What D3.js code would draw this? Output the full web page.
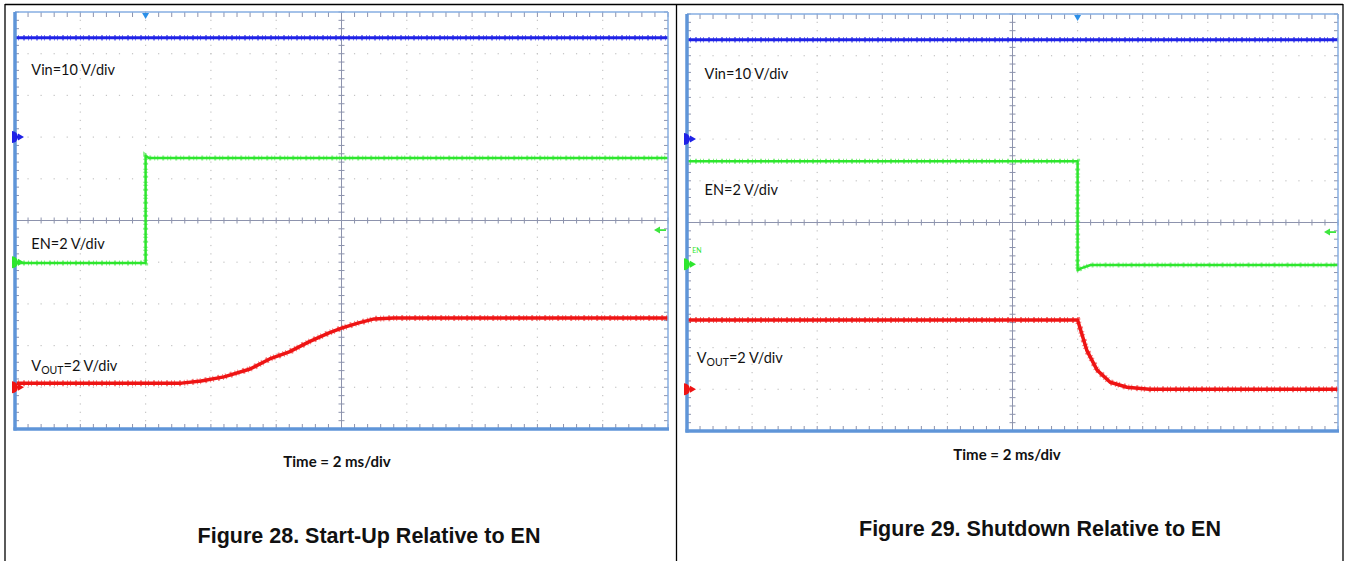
<!DOCTYPE html>
<html>
<head>
<meta charset="utf-8">
<script src="https://cdn.jsdelivr.net/npm/d3@7"></script>
<style>
  body { margin:0; background:#fff; }
  svg { display:block; }
  .lbl { font-family: Lato, "Open Sans", sans-serif; font-size:14.5px; fill:#111; }
  .time { font-family: Lato, "Open Sans", sans-serif; font-size:15px; font-weight:bold; fill:#111; }
  .cap { font-family: "Liberation Sans", Arial, sans-serif; font-size:21.5px; font-weight:bold; fill:#111; }
</style>
</head>
<body>
<div id="root"></div>
<script>
// ——— données (temps en divisions, tension en divisions depuis le bas)
// Figure 28 : démarrage
const upVinT = [0, 10];
const upVinV = [9.38, 9.38];
const upEnT  = [0, 2.0, 2.0, 2.05, 10];
const upEnV  = [3.98, 3.98, 6.55, 6.5, 6.5];
const upOutT = [0, 2.55, 2.85, 3.2, 3.6, 3.9, 4.2, 4.5, 4.8, 5.0, 5.25, 5.5, 5.8, 10];
const upOutV = [1.1, 1.1, 1.15, 1.25, 1.44, 1.68, 1.85, 2.09, 2.3, 2.42, 2.54, 2.64, 2.66, 2.66];

// Figure 29 : arrêt
const dnVinT = [0, 10];
const dnVinV = [9.38, 9.38];
const dnEnT  = [0, 6.0, 6.0, 6.05, 6.2, 10];
const dnEnV  = [6.47, 6.47, 3.85, 3.9, 3.98, 3.98];
const dnOutT = [0, 6.0, 6.14, 6.3, 6.5, 6.76, 7.1, 10];
const dnOutV = [2.66, 2.66, 1.94, 1.46, 1.17, 1.05, 1.0, 1.0];

// repères de voie (niveau de masse), déclenchement
const chLevels = [7, 4, 1];
const chColors = ["#1f22e6", "#2ee62e", "#ee1414"];
const trigLevel = 4.77;
const upTrigT = 2.0;
const dnTrigT = 6.0;

const W = 1346, H = 561;
const svg = d3.select("#root").append("svg").attr("width", W).attr("height", H);

// ——— cadre du document
const frame = svg.append("g").attr("stroke", "#000").attr("stroke-width", 1.3);
frame.append("line").attr("x1", 5).attr("x2", 1343).attr("y1", 4.5).attr("y2", 4.5);
[5, 676.5, 1343].forEach(x => frame.append("line").attr("x1", x).attr("x2", x).attr("y1", 4).attr("y2", H));

// ——— un oscillogramme
function scope(box, traces, trigT, labels) {
  const x = d3.scaleLinear().domain([0, 10]).range([box.x0, box.x1]);
  const y = d3.scaleLinear().domain([0, 10]).range([box.y1, box.y0]);
  const g = svg.append("g");
  const div = d3.range(0, 10.001, 0.2);

  // grille pointillée
  const maj = d3.range(1, 10);
  maj.filter(k => k !== 5).forEach(k => {
    div.forEach(s => {
      g.append("rect").attr("x", x(k) - 0.6).attr("y", y(s) - 0.6).attr("width", 1.2).attr("height", 1.2).attr("fill", "#c4c4c4");
      g.append("rect").attr("x", x(s) - 0.6).attr("y", y(k) - 0.6).attr("width", 1.2).attr("height", 1.2).attr("fill", "#c4c4c4");
    });
  });

  // axes centraux avec graduations
  const ax = g.append("g").attr("stroke", "#8d93ad").attr("stroke-width", 1);
  ax.append("line").attr("x1", x(0)).attr("x2", x(10)).attr("y1", y(5)).attr("y2", y(5));
  ax.append("line").attr("x1", x(5)).attr("x2", x(5)).attr("y1", y(0)).attr("y2", y(10));
  div.forEach(s => {
    ax.append("line").attr("x1", x(s)).attr("x2", x(s)).attr("y1", y(5) - 3).attr("y2", y(5) + 3);
    ax.append("line").attr("y1", y(s)).attr("y2", y(s)).attr("x1", x(5) - 3).attr("x2", x(5) + 3);
    // graduations du bord
    ax.append("line").attr("x1", x(s)).attr("x2", x(s)).attr("y1", y(10)).attr("y2", y(10) + 5);
    ax.append("line").attr("x1", x(s)).attr("x2", x(s)).attr("y1", y(0)).attr("y2", y(0) - 5);
    ax.append("line").attr("y1", y(s)).attr("y2", y(s)).attr("x1", x(0)).attr("x2", x(0) + 4);
    ax.append("line").attr("y1", y(s)).attr("y2", y(s)).attr("x1", x(10)).attr("x2", x(10) - 4);
  });

  // traces (trait plein + texture de bruit en pointillés)
  const line = d3.line().x(d => x(d[0])).y(d => y(d[1]));
  traces.forEach(tr => {
    const pts = d3.zip(tr.t, tr.v);
    g.append("path")
      .datum(pts)
      .attr("fill", "none")
      .attr("stroke", tr.color)
      .attr("stroke-width", tr.w)
      .attr("stroke-linejoin", "round")
      .attr("d", line);
    g.append("path")
      .datum(pts)
      .attr("fill", "none")
      .attr("stroke", tr.color)
      .attr("stroke-width", tr.w + 2.5)
      .attr("stroke-dasharray", "1 2 1 4 2 3")
      .attr("opacity", 0.55)
      .attr("d", line);
  });

  // bord du cadre
  g.append("line").attr("x1", x(0)).attr("x2", x(10)).attr("y1", y(10)).attr("y2", y(10)).attr("stroke", "#86aee2").attr("stroke-width", 1.5);
  g.append("line").attr("x1", x(10)).attr("x2", x(10)).attr("y1", y(10)).attr("y2", y(0)).attr("stroke", "#86aee2").attr("stroke-width", 1.5);
  g.append("line").attr("x1", x(0)).attr("x2", x(0)).attr("y1", y(10)).attr("y2", y(0) + 1.5).attr("stroke", "#5f95d8").attr("stroke-width", 3.5);
  g.append("line").attr("x1", x(0) - 1.5).attr("x2", x(10) + 1).attr("y1", y(0)).attr("y2", y(0)).attr("stroke", "#5f95d8").attr("stroke-width", 3.5);

  // repères de voie (par-dessus le cadre)
  chLevels.forEach((lv, i) => {
    const cy = y(lv), cx = x(0) - 3;
    g.append("path")
      .attr("d", `M${cx},${cy - 6} A6,6 0 0 1 ${cx},${cy + 6} Z`)
      .attr("fill", chColors[i]);
    g.append("path")
      .attr("d", `M${cx + 6},${cy - 3.5} L${cx + 12},${cy} L${cx + 6},${cy + 3.5} Z`)
      .attr("fill", chColors[i]);
    g.append("line").attr("x1", cx).attr("x2", cx + 8).attr("y1", cy).attr("y2", cy).attr("stroke", chColors[i]).attr("stroke-width", 2);
  });

  // déclenchement
  g.append("path")
    .attr("d", `M${x(trigT) - 3.5},${y(10) + 1} L${x(trigT) + 3.5},${y(10) + 1} L${x(trigT)},${y(10) + 7} Z`)
    .attr("fill", "#2a8fe8");
  const ty = y(trigLevel), tx = x(10) - 4;
  g.append("path").attr("d", `M${tx - 10},${ty} L${tx - 4},${ty - 3.5} L${tx - 4},${ty + 3.5} Z`).attr("fill", "#3ee63e");
  g.append("line").attr("x1", tx - 5).attr("x2", tx + 2).attr("y1", ty).attr("y2", ty).attr("stroke", "#3ee63e").attr("stroke-width", 1.8);

  // étiquettes
  labels.forEach(l => {
    const t = g.append("text").attr("class", "lbl").attr("x", x(l.t)).attr("y", y(l.v));
    if (l.sub) {
      t.append("tspan").text("V");
      t.append("tspan").attr("font-size", "10.5px").attr("dy", 3).text("OUT");
      t.append("tspan").attr("dy", -3).text(l.text);
    } else t.text(l.text);
  });
  return { x, y };
}

const up = scope({ x0: 15, x1: 668, y0: 12, y1: 429 }, [
  { t: upVinT, v: upVinV, color: chColors[0], w: 3 },
  { t: upEnT,  v: upEnV,  color: chColors[1], w: 2.5 },
  { t: upOutT, v: upOutV, color: chColors[2], w: 3.5 }
], upTrigT, [
  { t: 0.25, v: 8.5, text: "Vin=10 V/div" },
  { t: 0.25, v: 4.32, text: "EN=2 V/div" },
  { t: 0.25, v: 1.4, text: "=2 V/div", sub: true }
]);

const dn = scope({ x0: 687, x1: 1338, y0: 14, y1: 431 }, [
  { t: dnVinT, v: dnVinV, color: chColors[0], w: 3 },
  { t: dnEnT,  v: dnEnV,  color: chColors[1], w: 2.5 },
  { t: dnOutT, v: dnOutV, color: chColors[2], w: 3.5 }
], dnTrigT, [
  { t: 0.27, v: 8.44, text: "Vin=10 V/div" },
  { t: 0.27, v: 5.67, text: "EN=2 V/div" },
  { t: 0.15, v: 1.63, text: "=2 V/div", sub: true }
]);
// petite étiquette EN de la voie
svg.append("text").attr("x", dn.x(0.08)).attr("y", dn.y(4.28)).attr("font-family", "Lato, sans-serif").attr("font-size", "7px").attr("fill", "#2ee62e").text("EN");

// ——— légendes
svg.append("text").attr("class", "time").attr("x", 337).attr("y", 467).attr("text-anchor", "middle").text("Time = 2 ms/div");
svg.append("text").attr("class", "time").attr("x", 1007).attr("y", 460).attr("text-anchor", "middle").text("Time = 2 ms/div");
svg.append("text").attr("class", "cap").attr("x", 369).attr("y", 543).attr("text-anchor", "middle").text("Figure 28. Start-Up Relative to EN");
svg.append("text").attr("class", "cap").attr("x", 1040).attr("y", 536).attr("text-anchor", "middle").text("Figure 29. Shutdown Relative to EN");
</script>
</body>
</html>
